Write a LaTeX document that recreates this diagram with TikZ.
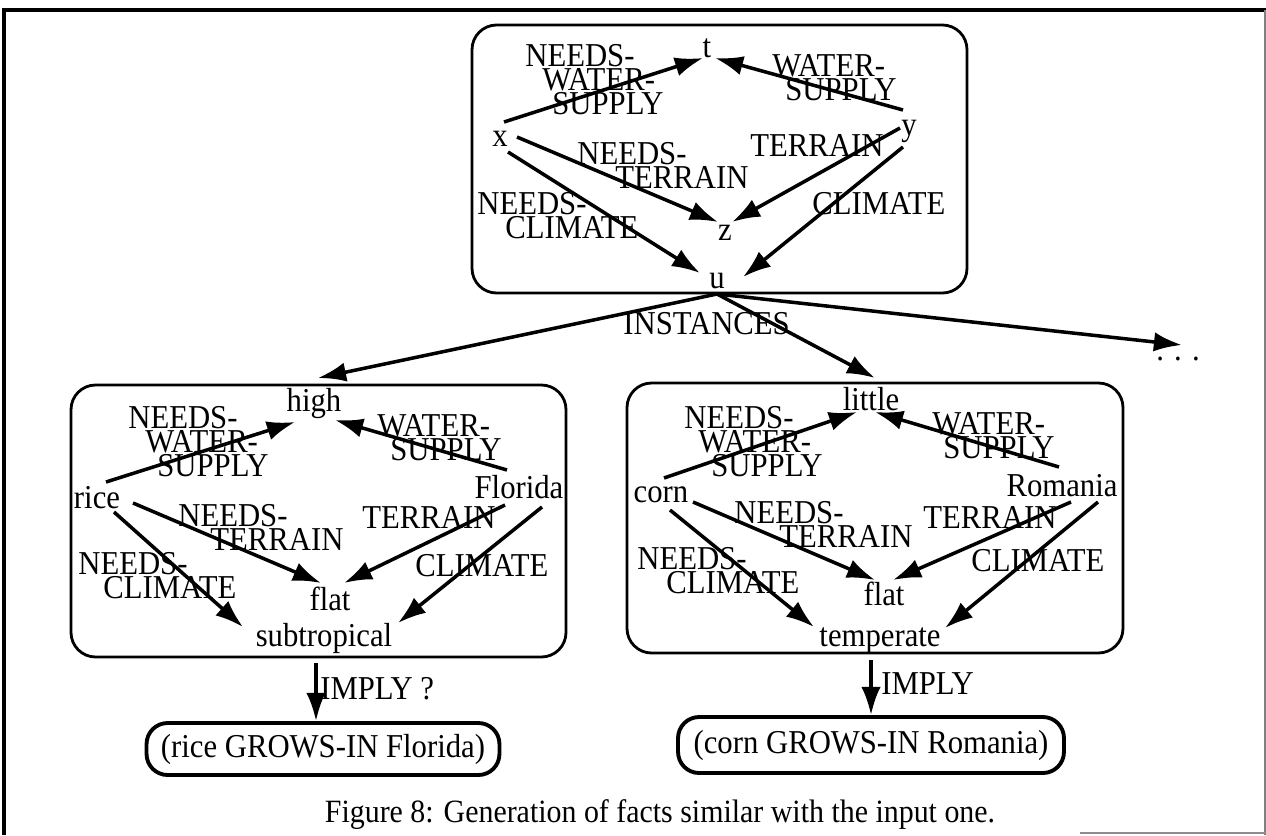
\documentclass[tikz,border=0pt]{standalone}
\usepackage{fontspec}
\setmainfont[FakeStretch=0.92]{Liberation Serif}
\usetikzlibrary{arrows.meta}
\newdimen\pxu \pxu=0.02cm
\begin{document}
\begin{tikzpicture}[x=0.02cm,y=-0.02cm,
  lbl/.style={anchor=north west, inner sep=0pt, align=left, font=\fontsize{19}{13.6}\selectfont},
  nd/.style={inner sep=0pt, font=\fontsize{19}{20}\selectfont},
  arr/.style={line width=2pt, -{Latex[length=16pt,width=11pt]}},
  grpbox/.style={draw, line width=1.6pt, rounded corners=14pt},
  resbox/.style={draw, line width=2.2pt, rounded corners=12pt, inner sep=0pt, font=\fontsize{19}{20}\selectfont}
]
\useasboundingbox (0,0) rectangle (1266,835);
% frame
\draw[line width=2.2pt] (4,835) -- (4,10) -- (1266,10);
\draw[line width=0.6pt, black!50] (1265,10) -- (1265,835);
\draw[line width=0.8pt, black!45] (1080,833) -- (1266,833);

% group boxes
\draw[grpbox] (472,25) rectangle (967,293);
\draw[grpbox] (71,385) rectangle (566,657);
\draw[grpbox] (627,383) rectangle (1123,653);

% ---------- top box ----------
\node[nd] (t) at (707,48) {t};
\node[nd] (x) at (500,139) {x};
\node[nd] (y) at (909,131) {y};
\node[nd] (z) at (725,233) {z};
\node[nd] (u) at (717,281) {u};

\node[lbl] (l1) at (525,44) {NEEDS-\\\hspace*{17\pxu}WATER-\\\hspace*{27\pxu}SUPPLY};
\node[lbl] (l2) at (772,54) {WATER-\\\hspace*{13\pxu}SUPPLY};
\node[lbl] (l3) at (750,134) {TERRAIN};
\node[lbl] (l4) at (577,142) {NEEDS-\\\hspace*{38\pxu}TERRAIN};
\node[lbl] (l5) at (477,192) {NEEDS-\\\hspace*{28\pxu}CLIMATE};
\node[lbl] (l6) at (812,192) {CLIMATE};

\draw[arr] ([shift={(4,-17)}]x.center) -- ([shift={(-4,10)}]t.center);
\draw[arr] ([shift={(-6,-21)}]y.center) -- ([shift={(8,10)}]t.center);
\draw[arr] ([shift={(17,-2)}]x.center) -- ([shift={(-7,-11)}]z.center);
\draw[arr] ([shift={(-9,-3)}]y.center) -- ([shift={(7,-11)}]z.center);
\draw[arr] ([shift={(8,13)}]x.center) -- ([shift={(-17,-8)}]u.center);
\draw[arr] ([shift={(-6,16)}]y.center) -- ([shift={(26,-4)}]u.center);

% ---------- left box ----------
\node[nd] (high) at (314,404) {high};
\node[nd] (rice) at (97,498) {rice};
\node[nd] (florida) at (519,487) {Florida};
\node[nd] (flatA) at (330,599) {flat};
\node[nd] (subtropical) at (324,638) {subtropical};

\node[lbl] (m1) at (128,406) {NEEDS-\\\hspace*{17\pxu}WATER-\\\hspace*{29\pxu}SUPPLY};
\node[lbl] (m2) at (377,414) {WATER-\\\hspace*{13\pxu}SUPPLY};
\node[lbl] (m3) at (362,506) {TERRAIN};
\node[lbl] (m4) at (178,504) {NEEDS-\\\hspace*{32\pxu}TERRAIN};
\node[lbl] (m5) at (78,552) {NEEDS-\\\hspace*{25\pxu}CLIMATE};
\node[lbl] (m6) at (415,554) {CLIMATE};

\draw[arr] ([shift={(9,-16)}]rice.center) -- ([shift={(-19,18)}]high.center);
\draw[arr] ([shift={(-12,-17)}]florida.center) -- ([shift={(21,16)}]high.center);
\draw[arr] ([shift={(36,5)}]rice.center) -- ([shift={(-9,-16)}]flatA.center);
\draw[arr] ([shift={(-14,18)}]florida.center) -- ([shift={(14,-16)}]flatA.center);
\draw[arr] ([shift={(17,14)}]rice.center) -- ([shift={(-81,-11)}]subtropical.center);
\draw[arr] ([shift={(23,20)}]florida.center) -- ([shift={(74,-15)}]subtropical.center);

% ---------- right box ----------
\node[nd] (little) at (871,399) {little};
\node[nd] (corn) at (661,495) {corn};
\node[nd] (romania) at (1062,486) {Romania};
\node[nd] (flatB) at (884,594) {flat};
\node[nd] (temperate) at (880,641) {temperate};

\node[lbl] (r1) at (684,406) {NEEDS-\\\hspace*{14\pxu}WATER-\\\hspace*{27\pxu}SUPPLY};
\node[lbl] (r2) at (932,412) {WATER-\\\hspace*{11\pxu}SUPPLY};
\node[lbl] (r3) at (923,506) {TERRAIN};
\node[lbl] (r4) at (734,501) {NEEDS-\\\hspace*{45\pxu}TERRAIN};
\node[lbl] (r5) at (637,547) {NEEDS-\\\hspace*{29\pxu}CLIMATE};
\node[lbl] (r6) at (971,549) {CLIMATE};

\draw[arr] ([shift={(3,-17)}]corn.center) -- ([shift={(-14,13)}]little.center);
\draw[arr] ([shift={(-3,-19)}]romania.center) -- ([shift={(4,13)}]little.center);
\draw[arr] ([shift={(32,7)}]corn.center) -- ([shift={(-9,-14)}]flatB.center);
\draw[arr] ([shift={(9,16)}]romania.center) -- ([shift={(9,-14)}]flatB.center);
\draw[arr] ([shift={(9,15)}]corn.center) -- ([shift={(-66,-14)}]temperate.center);
\draw[arr] ([shift={(36,16)}]romania.center) -- ([shift={(65,-13)}]temperate.center);

% ---------- instances ----------
\node[nd, anchor=base] (dots) at (1178,360) {. . .};
\node[lbl] (inst) at (623,312) {INSTANCES};
\draw[arr] ([shift={(0,13)}]u.center) -- ([shift={(4,-26)}]high.center);
\draw[arr] ([shift={(0,13)}]u.center) -- ([shift={(4,-21)}]little.center);
\draw[arr] ([shift={(0,13)}]u.center) -- ([shift={(4,-15)}]dots.base);

% ---------- results ----------
\node[resbox, minimum width=7.06cm, minimum height=1.04cm] (rr) at (323,749) {(rice GROWS-IN Florida)};
\node[resbox, minimum width=7.72cm, minimum height=1.12cm] (cr) at (871,745) {(corn GROWS-IN Romania)};
\draw[arr] ([shift={(-8,25)}]subtropical.center) -- ([shift={(-7,0)}]rr.north);
\draw[arr] ([shift={(-9,19)}]temperate.center) -- (cr.north);
\node[lbl] (i1) at (320,677) {IMPLY ?};
\node[lbl] (i2) at (881,672) {IMPLY};

% caption
\node[nd, font=\fontsize{18.5}{20}\selectfont, anchor=base] (cap) at (660,822) {Figure 8: Generation of facts similar with the input one.};
\end{tikzpicture}
\end{document}
